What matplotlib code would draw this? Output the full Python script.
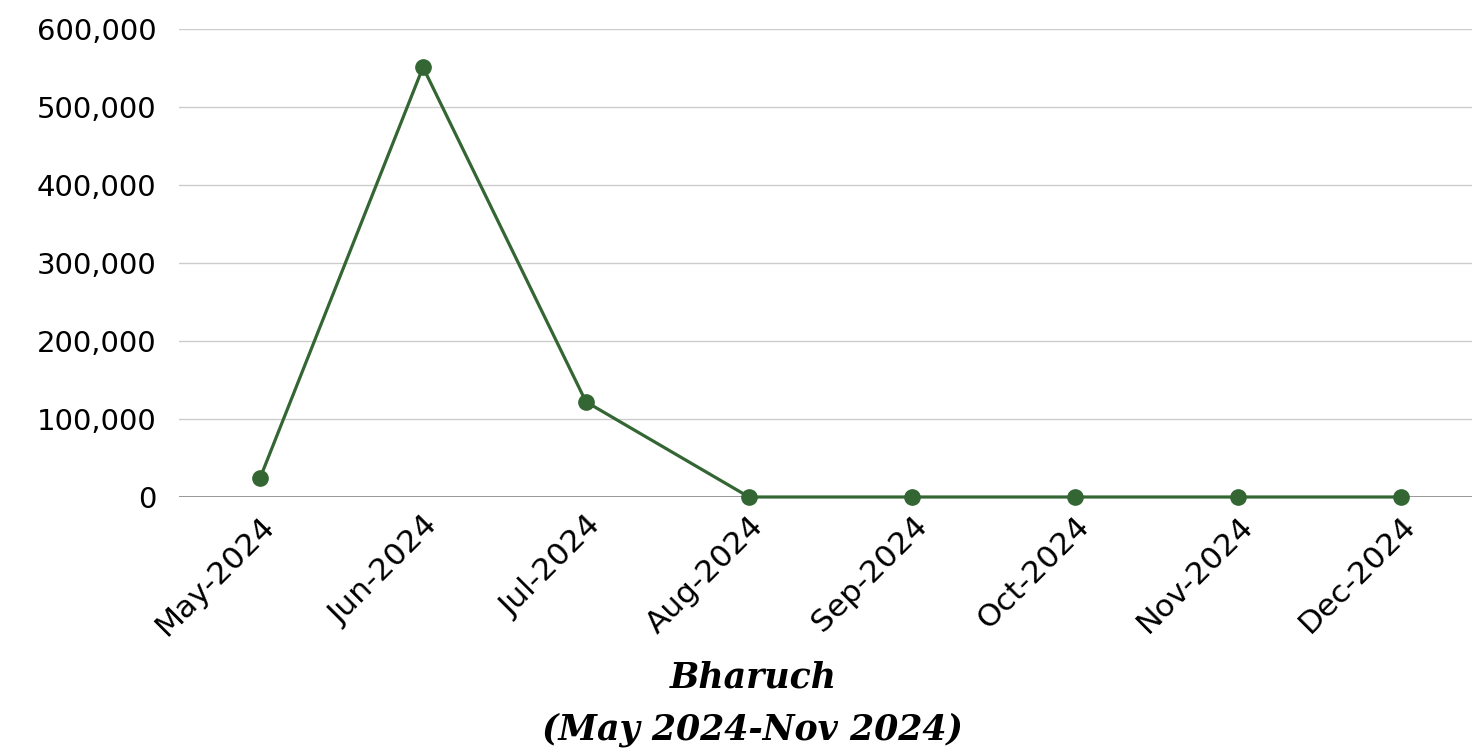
import matplotlib
matplotlib.use("Agg")
import matplotlib.pyplot as plt
from matplotlib.ticker import FuncFormatter

# Datos
months = ["May-2024", "Jun-2024", "Jul-2024", "Aug-2024",
          "Sep-2024", "Oct-2024", "Nov-2024", "Dec-2024"]
values = [24000, 551000, 122000, 0, 0, 0, 0, 0]
y_ticks = [0, 100000, 200000, 300000, 400000, 500000, 600000]

LINE_COLOR = "#336633"
W, H = 1472, 753

fig = plt.figure(figsize=(W / 100, H / 100), dpi=100)
# el eje se extiende un poco más allá del borde derecho de la figura
ax = fig.add_axes([178.5 / W, 1 - 497 / H, 1304 / W, (497 - 29) / H])

x = list(range(len(months)))
ax.plot(x, values, color=LINE_COLOR, lw=2.3, marker="o", ms=11,
        zorder=3, clip_on=False)

ax.set_xlim(-0.5, len(months) - 0.5)
ax.set_ylim(0, 600000)
ax.set_yticks(y_ticks)
ax.yaxis.set_major_formatter(FuncFormatter(lambda v, _: f"{int(v):,}"))
ax.grid(axis="y", color="#cccccc", lw=1)
ax.axhline(0, color="#888888", lw=1.2, zorder=2)

ax.set_xticks(x)
ax.set_xticklabels(months, rotation=45, ha="right", rotation_mode="anchor")
for lab in ax.get_yticklabels():
    lab.set_fontsize(21)
    lab.set_family("DejaVu Sans")
for lab in ax.get_xticklabels():
    lab.set_fontsize(22.5)
    lab.set_family("DejaVu Sans")

ax.tick_params(axis="both", length=0, labelcolor="#000000")
ax.tick_params(axis="y", pad=16)
ax.tick_params(axis="x", pad=10)
for s in ax.spines.values():
    s.set_visible(False)

fig.text(753 / W, 1 - 678 / H, "Bharuch", ha="center", va="center",
         family="DejaVu Serif", style="italic", weight="heavy", fontsize=25)
fig.text(753 / W, 1 - 730 / H, "(May 2024-Nov 2024)", ha="center",
         va="center", family="DejaVu Serif", style="italic", weight="heavy",
         fontsize=25)

fig.savefig("out.png", dpi=100)
